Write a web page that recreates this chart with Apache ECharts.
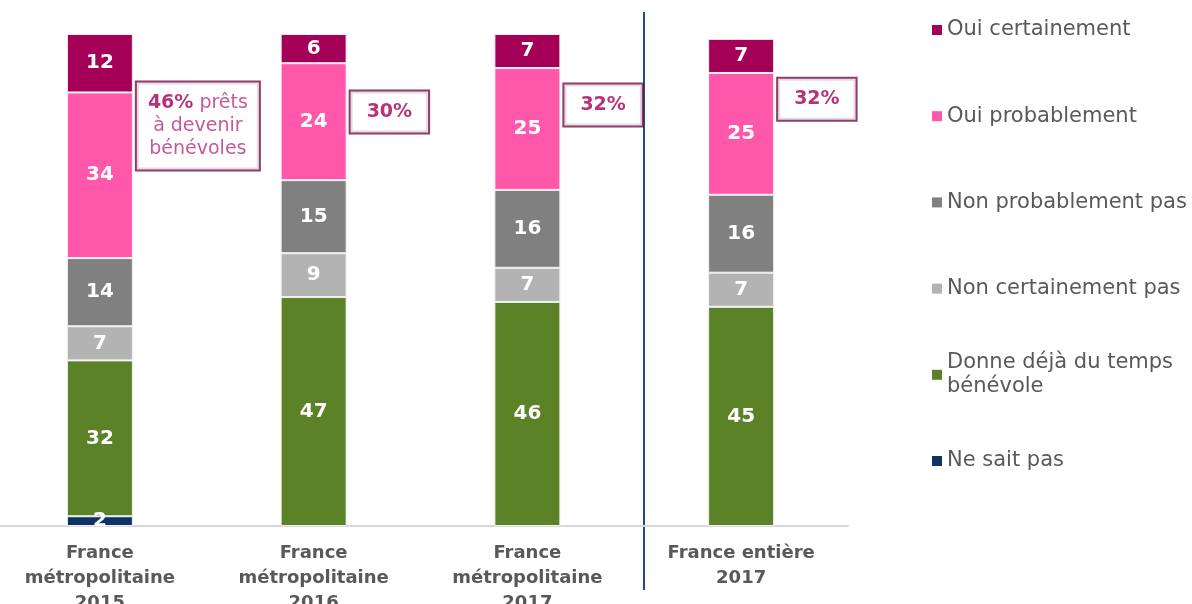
<!DOCTYPE html>
<html>
<head>
<meta charset="utf-8">
<script src="https://cdn.jsdelivr.net/npm/echarts@6/dist/echarts.min.js"></script>
<style>
  html, body { margin: 0; padding: 0; background: #fff; }
  #main { width: 1192px; height: 604px; }
</style>
</head>
<body>
<div id="main"></div>
<script>
// catégories (axe X)
const categories = ['France\nmétropolitaine\n2015', 'France\nmétropolitaine\n2016', 'France\nmétropolitaine\n2017', 'France entière\n2017']

// valeurs en % (du bas vers le haut de la pile)
const neSaitPas = [2, null, null, null]
const donneDeja = [32, 47, 46, 45]
const nonCertainement = [7, 9, 7, 7]
const nonProbablement = [14, 15, 16, 16]
const ouiProbablement = [34, 24, 25, 25]
const ouiCertainement = [12, 6, 7, 7]

// encadrés "prêts à devenir bénévoles"
const pretsPct = [46, 30, 32, 32]
const pretsText = [' prêts\nà devenir\nbénévoles', '', '', '']
const pretsLevel = [82.1, 85.0, 86.4, 87.6]

const names = ['Oui certainement', 'Oui probablement', 'Non probablement pas', 'Non certainement pas', 'Donne déjà du temps\nbénévole', 'Ne sait pas']
const colors = ['#A50057', '#FF57AA', '#808080', '#B3B3B3', '#5B8226', '#0E3263']
const values = [ouiCertainement, ouiProbablement, nonProbablement, nonCertainement, donneDeja, neSaitPas]

const font = 'DejaVu Sans'

// séries empilées, du bas vers le haut
let series = []
for (let i = names.length - 1; i >= 0; i--) {
  series.push({
    name: names[i],
    type: 'bar',
    stack: 'total',
    barWidth: 66,
    data: values[i],
    itemStyle: { color: colors[i], borderColor: '#f2f2f2', borderWidth: 1 },
    label: {
      show: true,
      position: 'inside',
      color: '#fff',
      fontFamily: font,
      fontWeight: 'bold',
      fontSize: 20
    }
  })
}

series.push({
  type: 'scatter',
  symbolSize: 0,
  silent: true,
  z: 10,
  itemStyle: { color: 'transparent' },
  data: pretsLevel.map((v, i) => [i, v]),
  label: {
    show: true,
    position: 'right',
    distance: 37,
    backgroundColor: '#fff',
    borderColor: '#6E0F45',
    borderWidth: 2,
    shadowBlur: 0,
    padding: [9, 11],
    formatter: function (p) {
      let i = p.dataIndex
      let rest = pretsText[i]
      if (!rest) return '{solo|' + pretsPct[i] + '%}'
      let lines = rest.split('\n')
      return '{b|' + pretsPct[i] + '%}{t|' + lines[0] + '}\n' + lines.slice(1).map(l => '{t|' + l + '}').join('\n')
    },
    rich: {
      b: { fontFamily: font, fontWeight: 'bold', color: '#A50057', fontSize: 19, lineHeight: 23, align: 'center' },
      t: { fontFamily: font, color: '#B8307A', fontSize: 19, lineHeight: 23, align: 'center' },
      solo: { fontFamily: font, fontWeight: 'bold', color: '#A50057', fontSize: 19, lineHeight: 23, padding: [0, 5] }
    }
  }
})

// une légende par entrée, pour caler chaque ligne
let legends = names.map((name, i) => {
  let center = 30 + 86.2 * i
  let multi = name.indexOf('\n') >= 0
  return {
    data: [multi ? { name: name, textStyle: { padding: [24, 0, 0, 0] } } : name],
    orient: 'vertical',
    left: 932,
    top: center - (multi ? 36 : 12),
    padding: 0,
    icon: 'rect',
    itemWidth: 10,
    itemHeight: 10,
    selectedMode: false,
    itemStyle: { borderWidth: 0 },
    textStyle: { fontFamily: font, fontSize: 21, lineHeight: 24, color: '#595959' }
  }
})

const option = {
  animation: false,
  backgroundColor: '#fff',
  grid: { left: -7, right: 344, top: 34, bottom: 78, containLabel: false, outerBoundsMode: 'none' },
  legend: legends,
  xAxis: {
    type: 'category',
    data: categories,
    axisTick: { show: false },
    axisLine: { lineStyle: { color: '#d9d9d9', width: 2 } },
    axisLabel: {
      interval: 0,
      margin: 15,
      color: '#595959',
      fontFamily: font,
      fontWeight: 'bold',
      fontSize: 18,
      lineHeight: 25
    }
  },
  yAxis: {
    type: 'value',
    min: 0,
    max: 101,
    show: false,
    splitLine: { show: false }
  },
  graphic: [{
    type: 'line',
    shape: { x1: 644, y1: 12, x2: 644, y2: 590 },
    style: { stroke: '#1F4E79', lineWidth: 2 }
  }],
  series: series
}

let chart = echarts.init(document.getElementById('main'))
chart.setOption(option)
</script>
</body>
</html>
